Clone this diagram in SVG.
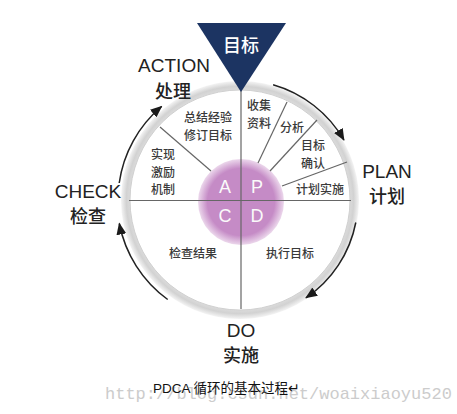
<svg xmlns="http://www.w3.org/2000/svg" width="457" height="414" viewBox="0 0 457 414">
<defs>
<radialGradient id="ring" cx="240" cy="200" r="119" gradientUnits="userSpaceOnUse">
<stop offset="0.9" stop-color="#e2e2e2"/>
<stop offset="0.955" stop-color="#d2d2d2"/>
<stop offset="1" stop-color="#f4f4f4"/>
</radialGradient>
<radialGradient id="purple" cx="241" cy="202" r="43" gradientUnits="userSpaceOnUse">
<stop offset="0.78" stop-color="#c58bc6"/>
<stop offset="1" stop-color="#ecd8ec"/>
</radialGradient>
<marker id="ah" viewBox="0 0 12 10" refX="11" refY="5" markerWidth="12" markerHeight="10" markerUnits="userSpaceOnUse" orient="auto">
<path d="M0,0 L12,5 L0,10 Z" fill="#1a1a1a"/>
</marker>
<style>
.big{font-family:"Liberation Sans","Noto Sans CJK SC",sans-serif;font-size:19px;fill:#222;text-anchor:middle}
.cjk{font-family:"Noto Sans CJK SC",sans-serif;font-size:18px;font-weight:500;fill:#222;text-anchor:middle}
.sm{font-family:"Noto Sans CJK SC",sans-serif;font-size:12px;font-weight:500;fill:#3a3a3a;text-anchor:middle}
.lt{font-family:"Liberation Sans",sans-serif;font-size:18px;fill:#fafafa;text-anchor:middle}
.div{stroke:#666;stroke-width:1.2;fill:none}
.arc{stroke:#222;stroke-width:1.5;fill:none;marker-end:url(#ah)}
</style>
</defs>
<rect width="457" height="414" fill="#ffffff"/>
<g id="wheel">
<circle cx="240" cy="200" r="119" fill="url(#ring)"/>
<circle cx="240" cy="200" r="110" fill="#ffffff" stroke="#d0d0d0" stroke-width="1"/>
<circle cx="241" cy="202" r="43" fill="url(#purple)"/>
<line class="div" x1="241" y1="90" x2="241" y2="309"/>
<line class="div" x1="129" y1="200.5" x2="351" y2="200.5"/>
<line class="div" x1="160" y1="127" x2="211" y2="171"/>
<line class="div" x1="287" y1="102" x2="258" y2="163"/>
<line class="div" x1="317" y1="120" x2="270" y2="171"/>
<line class="div" x1="347" y1="162" x2="282" y2="186"/>
<text class="lt" x="225" y="193">A</text>
<text class="lt" x="257" y="193">P</text>
<text class="lt" x="225" y="222">C</text>
<text class="lt" x="257" y="222">D</text>
</g>
<g id="target">
<polygon points="197,23 286,23 241,92" fill="#1c3462"/>
<text class="cjk" x="241" y="52" style="fill:#ffffff">目标</text>
</g>
<g id="segments">
<text class="sm" x="259" y="110">收集<tspan x="259" dy="17.5">资料</tspan></text>
<text class="sm" x="292" y="132">分析</text>
<text class="sm" x="313" y="150">目标<tspan x="313" dy="17.5">确认</tspan></text>
<text class="sm" x="320" y="194">计划实施</text>
<text class="sm" x="208" y="122">总结经验<tspan x="208" dy="17.5">修订目标</tspan></text>
<text class="sm" x="163" y="159">实现<tspan x="163" dy="17.5">激励</tspan><tspan x="163" dy="17.5">机制</tspan></text>
<text class="sm" x="193" y="258">检查结果</text>
<text class="sm" x="290" y="258">执行目标</text>
</g>
<g id="action">
<text class="big" x="174" y="72">ACTION</text>
<text class="cjk" x="173" y="98">处理</text>
</g>
<g id="plan">
<text class="big" x="387" y="178">PLAN</text>
<text class="cjk" x="387" y="203">计划</text>
</g>
<g id="do">
<text class="big" x="241" y="337">DO</text>
<text class="cjk" x="241" y="362">实施</text>
</g>
<g id="check">
<text class="big" x="88" y="198">CHECK</text>
<text class="cjk" x="88" y="223">检查</text>
</g>
<g id="connectors">
<path class="arc" d="M119.2,183 A122,122 0 0 1 161.6,106.5"/>
<path class="arc" d="M273.1,84.7 A120,120 0 0 1 343.9,140"/>
<path class="arc" d="M355.8,222.5 A118,118 0 0 1 306,297.8"/>
<path class="arc" d="M167.7,299.5 A123,123 0 0 1 119.3,223.5"/>
</g>
<g id="caption">
<text x="105" y="399" style="font-family:'Liberation Mono',monospace;font-size:17px;fill:#cccccc">http://blog.csdn.net/woaixiaoyu520</text>
<text x="153" y="393" style="font-family:'Liberation Sans','Noto Sans CJK SC',sans-serif;font-size:13.5px;fill:#111">PDCA 循环的基本过程↵</text>
</g>
</svg>
